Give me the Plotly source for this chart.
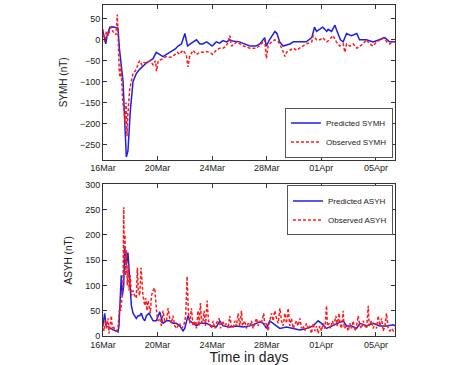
import pandas as pd
import plotly.graph_objects as go

BASE = pd.Timestamp("2015-03-16")

# ---- SYM-H (top panel) ----
symh_pred_day = [0.0, 0.1, 0.2, 0.3, 0.5, 0.7, 0.9, 1.1, 1.2, 1.35, 1.47, 1.6, 1.71, 1.83, 1.9, 2.0,
                 2.2, 2.45, 2.7, 2.95, 3.2, 3.45, 3.67, 3.9, 4.15, 4.4, 4.65, 4.9, 5.1, 5.3, 5.5,
                 5.75, 6.0, 6.2, 6.4, 6.6, 6.85, 7.1, 7.3, 7.6, 8.0, 8.3, 8.55, 8.8, 9.05, 9.3, 9.5,
                 10.0, 10.4, 10.75, 11.2, 11.5, 11.85, 11.97, 12.2, 12.6, 12.75, 12.95, 13.2, 13.7,
                 13.95, 14.4, 14.9, 15.3, 15.5, 15.65, 15.9, 16.1, 16.4, 16.5, 16.75, 17.0, 17.1,
                 17.4, 17.6, 17.85, 18.2, 18.6, 18.8, 19.3, 19.8, 20.3, 20.65, 21.0, 21.4]
symh_pred = [20, 5, -10, 10, 30, 31, 30, 28, -20, -60, -100, -200, -280, -265, -230, -170,
             -100, -80, -70, -62, -55, -50, -45, -30, -35, -40, -35, -30, -25, -22, -15,
             -10, 15, -15, -10, -5, 0, -10, -10, -5, -15, -5, -8, -2, -5, 0, -3,
             -5, -10, -15, -15, -10, 5, -15, 0, 20, 15, -5, -15, -10,
             -5, -5, -5, 5, 30, 20, 25, 30, 20, 25, 20, 35, 25,
             0, -5, 15, 10, 15, 0, 0, -5, 0, 5, -5, -5]

symh_obs_day = [0.0, 0.12, 0.25, 0.4, 0.5, 0.6, 0.72, 0.85, 0.95, 1.05, 1.12, 1.2, 1.27, 1.3, 1.38,
                1.45, 1.55, 1.62, 1.69, 1.76, 1.82, 1.95, 2.07, 2.2, 2.35, 2.45, 2.6, 2.7, 2.85,
                3.0, 3.2, 3.45, 3.67, 3.85, 3.92, 4.05, 4.4, 4.6, 4.85, 5.1, 5.45, 5.6, 5.85, 6.1,
                6.23, 6.35, 6.6, 6.85, 7.1, 7.3, 7.6, 7.8, 8.05, 8.3, 8.55, 8.8, 9.05, 9.3, 9.42,
                9.8, 10.3, 10.75, 11.25, 11.6, 11.85, 11.98, 12.1, 12.35, 12.6, 12.85, 13.1, 13.33,
                13.45, 13.7, 13.95, 14.2, 14.4, 14.9, 15.3, 15.4, 15.65, 15.9, 16.1, 16.4, 16.6,
                16.85, 17.1, 17.35, 17.6, 17.73, 17.85, 18.1, 18.35, 18.6, 18.8, 19.05, 19.3,
                19.55, 19.8, 20.05, 20.3, 20.55, 20.8, 21.0, 21.2, 21.4]
symh_obs = [25, -5, 20, 10, 25, 30, 20, 15, 12, 60, 0, -80, -90, -60, -100,
            -150, -170, -200, -150, -230, -180, -120, -100, -80, -75, -70, -55, -50, -60,
            -55, -55, -50, -60, -50, -75, -50, -45, -40, -42, -40, -30, -35, -25, -35,
            -65, -40, -25, -35, -30, -30, -28, -30, -35, -25, -20, -20, -15, 10, -15,
            -5, -15, -20, -20, -10, 0, -45, -15, -5, 0, -5, -20, -40,
            -30, -25, -20, -25, -20, -10, -5, 10, 0, 0, 5, -5, 0,
            10, -5, -15, -10, -30, -10, -15, -10, -20, -15, -10, 0,
            -10, -15, -5, 0, 5, -5, -10, -5, -5]

# ---- ASY-H (bottom panel) ----
asyh_pred_day = [0.00, 0.12, 0.24, 0.49, 0.73, 0.98, 1.10, 1.17, 1.27, 1.34, 1.42, 1.52, 1.59, 1.71,
                 1.83, 1.96, 2.08, 2.20, 2.32, 2.44, 2.57, 2.69, 2.81, 2.93, 3.06, 3.18, 3.37, 3.55,
                 3.67, 3.91, 4.03, 4.16, 4.28, 4.40, 4.65, 4.89, 5.13, 5.38, 5.62, 5.87, 5.99, 6.23,
                 6.36, 6.60, 6.85, 7.09, 7.58, 7.95, 8.31, 8.56, 8.80, 9.29, 9.78, 10.27, 10.76,
                 11.25, 11.49, 11.74, 11.98, 12.22, 12.47, 12.71, 12.96, 13.45, 13.94, 14.43, 14.91,
                 15.40, 15.77, 16.01, 16.38, 16.75, 17.11, 17.60, 17.85, 18.22, 18.58, 18.83, 19.32,
                 19.80, 20.29, 20.78, 21.27, 21.39]
asyh_pred = [20, 45, 20, 15, 12, 10, 8, 20, 100, 120, 80, 100, 175, 140,
             165, 110, 60, 45, 40, 35, 40, 40, 45, 35, 30, 40, 45, 35,
             30, 30, 40, 48, 35, 25, 30, 30, 25, 25, 20, 10, 15, 40,
             30, 25, 20, 25, 25, 20, 18, 30, 20, 18, 20, 18, 20,
             25, 28, 25, 15, 30, 25, 20, 15, 18, 15, 12, 15,
             20, 30, 25, 15, 20, 25, 30, 20, 20, 15, 25, 20,
             25, 20, 20, 22, 20]

asyh_obs_day = [0.00, 0.07, 0.17, 0.24, 0.37, 0.44, 0.54, 0.61, 0.68, 0.78, 0.86, 0.98, 1.10, 1.17,
                1.22, 1.30, 1.37, 1.47, 1.52, 1.56, 1.61, 1.66, 1.71, 1.78, 1.86, 1.91, 2.00, 2.08,
                2.20, 2.32, 2.44, 2.52, 2.59, 2.69, 2.79, 2.86, 2.93, 3.06, 3.13, 3.23, 3.30, 3.37,
                3.47, 3.55, 3.67, 3.79, 3.86, 3.96, 4.03, 4.16, 4.28, 4.40, 4.52, 4.65, 4.77, 4.89,
                5.01, 5.13, 5.26, 5.38, 5.50, 5.62, 5.75, 5.92, 6.06, 6.16, 6.26, 6.36, 6.48, 6.60,
                6.72, 6.85, 6.97, 7.04, 7.14, 7.24, 7.33, 7.41, 7.51, 7.63, 7.73, 7.82, 7.95, 8.07,
                8.19, 8.31, 8.51, 8.61, 8.75, 8.92, 9.05, 9.17, 9.29, 9.41, 9.54, 9.66, 9.78, 9.90,
                10.02, 10.15, 10.22, 10.39, 10.51, 10.64, 10.76, 10.88, 11.00, 11.25, 11.37, 11.49,
                11.61, 11.78, 11.86, 11.98, 12.10, 12.22, 12.35, 12.47, 12.59, 12.71, 12.84, 12.96,
                13.08, 13.20, 13.33, 13.45, 13.57, 13.69, 13.81, 13.94, 14.18, 14.30, 14.43, 14.55,
                14.67, 14.79, 14.91, 15.04, 15.16, 15.28, 15.40, 15.53, 15.65, 15.77, 15.89, 16.01,
                16.14, 16.26, 16.38, 16.45, 16.58, 16.67, 16.82, 16.92, 17.07, 17.16, 17.31, 17.36,
                17.48, 17.60, 17.68, 17.85, 17.97, 18.09, 18.22, 18.34, 18.46, 18.58, 18.70, 18.83,
                18.95, 19.07, 19.19, 19.32, 19.44, 19.51, 19.68, 19.80, 19.93, 20.05, 20.17, 20.29,
                20.42, 20.54, 20.66, 20.78, 20.90, 21.03, 21.15, 21.27, 21.39]
asyh_obs = [25, 10, 30, 15, 35, 5, 25, 40, 15, 20, 10, 10, 15, 40,
            60, 50, 80, 100, 255, 150, 200, 120, 170, 100, 140, 90, 120, 80,
            90, 80, 75, 135, 90, 80, 135, 100, 80, 60, 75, 50, 70, 60,
            45, 80, 90, 95, 70, 40, 30, 35, 20, 50, 30, 30, 55, 35,
            25, 40, 20, 15, 20, 25, 15, 20, 40, 118, 45, 25, 55, 20,
            30, 15, 50, 20, 65, 25, 30, 50, 20, 70, 30, 25, 15, 30,
            15, 25, 35, 15, 30, 20, 25, 15, 40, 20, 15, 30, 20, 45,
            20, 50, 20, 30, 15, 25, 20, 30, 15, 35, 20, 30,
            25, 45, 20, 25, 10, 30, 45, 30, 50, 35, 25, 55,
            30, 20, 45, 25, 55, 20, 35, 15, 30, 20, 35, 15,
            20, 10, 25, 15, 20, 5, 25, 10, 20, 5, 20, 10,
            25, 15, 60, 20, 25, 15, 30, 20, 40, 20, 45, 25,
            15, 50, 15, 20, 10, 25, 15, 30, 10, 20, 40, 20,
            15, 30, 20, 15, 60, 20, 30, 15, 25, 15, 40, 20,
            35, 10, 20, 45, 15, 10, 15, 10, 15]

X_END_DAY = 21.4
SYMH_RANGE = [-286, 83]
ASYH_RANGE = [0, 300]


def to_time(days):
    return BASE + pd.to_timedelta(days, unit="D")


BLUE = "#1f1fe6"
RED = "#ff1a1a"

fig = go.Figure()
fig.add_trace(go.Scatter(x=to_time(symh_pred_day), y=symh_pred, mode="lines", name="Predicted SYMH",
                         line=dict(color=BLUE, width=1.5), xaxis="x", yaxis="y", legend="legend"))
fig.add_trace(go.Scatter(x=to_time(symh_obs_day), y=symh_obs, mode="lines", name="Observed SYMH",
                         line=dict(color=RED, width=1.5, dash="3px,2px"), xaxis="x", yaxis="y",
                         legend="legend"))
fig.add_trace(go.Scatter(x=to_time(asyh_pred_day), y=asyh_pred, mode="lines", name="Predicted ASYH",
                         line=dict(color=BLUE, width=1.5), xaxis="x2", yaxis="y2", legend="legend2"))
fig.add_trace(go.Scatter(x=to_time(asyh_obs_day), y=asyh_obs, mode="lines", name="Observed ASYH",
                         line=dict(color=RED, width=1.5, dash="3px,2px"), xaxis="x2", yaxis="y2",
                         legend="legend2"))

x_range = [BASE, BASE + pd.Timedelta(days=X_END_DAY)]
axis_common = dict(showline=True, linecolor="#333", linewidth=1, mirror="ticks", ticks="inside",
                   ticklen=4, tickcolor="#333", showgrid=False, zeroline=False,
                   tickfont=dict(family="Liberation Sans, Arial", size=9, color="#222"))
xcommon = dict(axis_common, type="date", range=x_range, tickformat="%d%b",
               tick0=BASE, dtick=4 * 86400000)

fig.update_layout(
    width=474, height=365,
    margin=dict(l=103, r=79, t=0, b=29),
    paper_bgcolor="white", plot_bgcolor="white",
    font=dict(family="Liberation Sans, Arial", color="#222"),
    xaxis=dict(xcommon, domain=[0, 1], anchor="y"),
    yaxis=dict(axis_common, domain=[0.533, 1.0], range=SYMH_RANGE, tickvals=[50, 0, -50, -100, -150, -200, -250],
               title=dict(text="SYMH (nT)", font=dict(size=10), standoff=10), anchor="x"),
    xaxis2=dict(xcommon, domain=[0, 1], anchor="y2",
                title=dict(text="Time in days", font=dict(size=14, color="#222"), standoff=4)),
    yaxis2=dict(axis_common, domain=[0, 0.458], range=ASYH_RANGE, tickvals=[0, 50, 100, 150, 200, 250, 300],
                title=dict(text="ASYH (nT)", font=dict(size=10), standoff=10), anchor="x2"),
    legend=dict(x=0.993, y=0.539, xanchor="right", yanchor="bottom", bgcolor="white",
                bordercolor="#555", borderwidth=1, font=dict(size=8), tracegroupgap=0,
                itemwidth=30),
    legend2=dict(x=0.993, y=0.455, xanchor="right", yanchor="top", bgcolor="white",
                 bordercolor="#555", borderwidth=1, font=dict(size=8), tracegroupgap=0,
                 itemwidth=30),
    showlegend=True,
)

fig.write_html("out.html", config={"displayModeBar": False},
               post_script="document.body.style.margin='0px';")
